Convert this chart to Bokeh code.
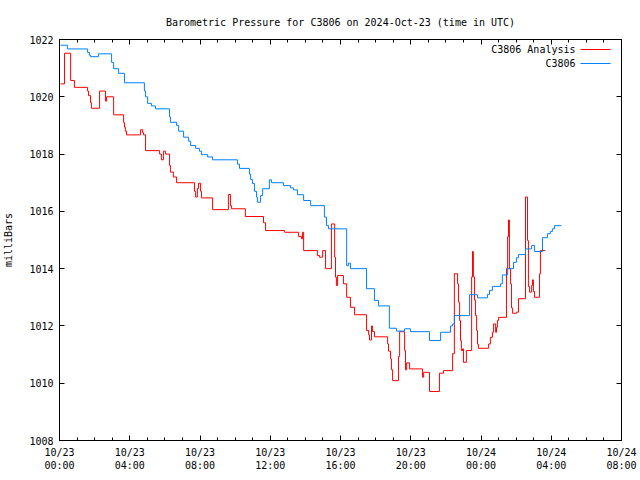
import numpy as np
from bokeh.plotting import figure
from bokeh.models import (LinearAxis, FixedTicker, Range1d, Label, Arrow)
from bokeh.embed import file_html
from bokeh.resources import INLINE

# ---- data (minutes since 2024-10-23 00:00 UTC, pressure in mb) ----
station_min = [3, 27, 96, 102, 106, 133, 178, 185, 202, 222, 290, 294, 301, 314, 328,
               376, 379, 400, 407, 424, 441, 448, 465, 478, 485, 506, 523, 608, 615,
               649, 653, 659, 666, 673, 676, 687, 694, 717, 724, 765, 789, 799, 813,
               834, 858, 905, 912, 919, 981, 987, 994, 1049, 1076, 1090, 1127, 1151,
               1179, 1199, 1264, 1302, 1336, 1343, 1349, 1401, 1428, 1462, 1469, 1479,
               1507, 1513, 1531, 1551, 1561, 1568, 1592, 1613, 1623, 1650, 1667, 1677,
               1684, 1691, 1715]
station_mb = [1021.80, 1021.67, 1021.55, 1021.45, 1021.40, 1021.50, 1021.20, 1020.98,
              1020.82, 1020.49, 1020.20, 1020.00, 1019.77, 1019.68, 1019.58, 1019.30,
              1019.11, 1019.00, 1018.80, 1018.59, 1018.45, 1018.30, 1018.20, 1018.10,
              1017.98, 1017.90, 1017.80, 1017.65, 1017.50, 1017.30, 1017.11, 1016.97,
              1016.70, 1016.50, 1016.32, 1016.55, 1016.79, 1017.10, 1017.00, 1016.90,
              1016.82, 1016.75, 1016.58, 1016.38, 1016.20, 1015.80, 1015.50, 1015.39,
              1014.10, 1014.19, 1014.00, 1013.30, 1012.89, 1012.70, 1011.92, 1011.82,
              1011.90, 1011.80, 1011.49, 1011.78, 1012.00, 1012.07, 1012.36, 1013.09,
              1012.98, 1013.10, 1013.24, 1013.38, 1013.47, 1013.78, 1014.00, 1014.22,
              1014.38, 1014.49, 1014.69, 1014.81, 1014.60, 1015.08, 1015.22, 1015.30,
              1015.39, 1015.50, 1015.50]

analysis_min = [3, 17, 38, 51, 96, 99, 106, 109, 137, 157, 161, 185, 219, 222, 225, 229,
                277, 284, 287, 294, 342, 348, 355, 362, 376, 379, 389, 400, 461, 465,
                471, 475, 482, 485, 523, 577, 584, 588, 635, 697, 704, 769, 817, 827,
                830, 834, 881, 888, 899, 909, 929, 940, 943, 946, 950, 970, 981, 994,
                1008, 1049, 1056, 1059, 1066, 1069, 1076, 1121, 1124, 1131, 1134, 1138,
                1158, 1162, 1179, 1182, 1186, 1196, 1240, 1244, 1264, 1298, 1312, 1343,
                1349, 1360, 1363, 1367, 1370, 1373, 1377, 1380, 1390, 1408, 1411, 1414,
                1418, 1421, 1425, 1428, 1431, 1466, 1472, 1479, 1483, 1490, 1493, 1496,
                1500, 1527, 1531, 1534, 1537, 1541, 1544, 1548, 1561, 1568, 1592, 1599,
                1602, 1606, 1613, 1616, 1619, 1623, 1640, 1643, 1660]
analysis_mb = [1020.45, 1021.52, 1020.57, 1020.33, 1020.20, 1020.04, 1019.80, 1019.60,
               1020.20, 1019.85, 1020.00, 1019.37, 1019.10, 1018.94, 1018.80, 1018.67,
               1018.85, 1018.75, 1018.67, 1018.12, 1018.00, 1017.80, 1018.10, 1018.00,
               1017.60, 1017.37, 1017.20, 1017.00, 1016.70, 1016.50, 1016.80, 1016.98,
               1016.70, 1016.47, 1016.06, 1016.59, 1016.20, 1016.09, 1015.82, 1015.60,
               1015.33, 1015.27, 1015.12, 1015.04, 1015.27, 1014.63, 1014.46, 1014.40,
               1014.63, 1014.00, 1015.56, 1014.40, 1013.70, 1013.41, 1013.76, 1013.47,
               1013.00, 1012.65, 1012.39, 1011.84, 1011.69, 1011.51, 1012.00, 1011.80,
               1011.62, 1011.37, 1011.12, 1010.85, 1010.47, 1010.09, 1010.93, 1011.80,
               1011.14, 1010.47, 1010.71, 1010.50, 1010.21, 1010.38, 1009.71, 1010.35,
               1010.44, 1011.03, 1013.82, 1013.47, 1012.83, 1012.19, 1011.49, 1011.14,
               1011.20, 1010.73, 1011.14, 1013.71, 1014.60, 1013.71, 1012.90, 1012.36,
               1011.84, 1011.37, 1011.22, 1011.37, 1011.60, 1011.78, 1012.07, 1011.78,
               1011.95, 1012.19, 1012.30, 1014.00, 1015.12, 1015.70, 1014.00, 1013.47,
               1012.63, 1012.44, 1012.48, 1012.95, 1016.50, 1014.98, 1013.38, 1013.18,
               1013.41, 1013.61, 1013.20, 1013.00, 1013.82, 1014.63, 1014.63]

x_tick_hours = [0, 4, 8, 12, 16, 20, 24, 28, 32]
x_tick_labels = ["10/23\n00:00", "10/23\n04:00", "10/23\n08:00", "10/23\n12:00",
                 "10/23\n16:00", "10/23\n20:00", "10/24\n00:00", "10/24\n04:00",
                 "10/24\n08:00"]
y_ticks = [1008, 1010, 1012, 1014, 1016, 1018, 1020, 1022]

series_names = ["C3806 Analysis", "C3806"]
series_colors = ["#ff0000", "#0080ff"]

FONT = "DejaVu Sans Mono"

p = figure(width=640, height=480, output_backend="svg", toolbar_location=None,
           x_range=Range1d(0, 32), y_range=Range1d(1008, 1022),
           min_border_left=59, min_border_right=19, min_border_top=39,
           min_border_bottom=40, x_axis_location=None, y_axis_location=None)
p.grid.visible = False
p.outline_line_color = "black"
p.background_fill_color = "white"
p.border_fill_color = "white"

p.title.text = "Barometric Pressure for C3806 on 2024-Oct-23 (time in UTC)"
p.title.align = "center"
p.title.text_font = FONT
p.title.text_font_size = "10px"
p.title.text_font_style = "normal"
p.title.text_color = "black"
p.title.standoff = 24

xt = FixedTicker(ticks=x_tick_hours, minor_ticks=list(range(0, 33)))
yt = FixedTicker(ticks=y_ticks, minor_ticks=[])


def style(ax, labels=True):
    ax.axis_line_color = "black"
    ax.major_tick_in = 5
    ax.major_tick_out = 0
    ax.minor_tick_in = 3
    ax.minor_tick_out = 0
    ax.major_tick_line_color = "black"
    ax.minor_tick_line_color = "black"
    ax.major_label_text_font = FONT
    ax.major_label_text_font_size = "10px"
    ax.major_label_text_color = "black" if labels else None
    ax.axis_label_text_font = FONT
    ax.axis_label_text_font_size = "10px"
    ax.axis_label_text_font_style = "normal"
    ax.axis_label_text_color = "black"
    if not labels:
        ax.major_label_standoff = 0


xb = LinearAxis(ticker=xt, major_label_overrides={h: l for h, l in zip(x_tick_hours, x_tick_labels)})
style(xb)
xb.major_label_standoff = 6
p.add_layout(xb, "below")
xa = LinearAxis(ticker=xt)
style(xa, labels=False)
p.add_layout(xa, "above")

yl = LinearAxis(ticker=yt, axis_label="milliBars")
style(yl)
yl.major_label_standoff = 6
yl.axis_label_standoff = 12
p.add_layout(yl, "left")
yr = LinearAxis(ticker=yt)
style(yr, labels=False)
p.add_layout(yr, "right")

ah = np.array(analysis_min) / 60.0
sh = np.array(station_min) / 60.0
p.step(ah, analysis_mb, mode="after", line_color=series_colors[0], line_width=1)
p.step(sh, station_mb, mode="after", line_color=series_colors[1], line_width=1)

# gnuplot-style key (text right-aligned, sample line to the right)
for i, (name, col) in enumerate(zip(series_names, series_colors)):
    ys = 391 - 14 * i
    p.add_layout(Label(x=516, y=ys, x_units="screen", y_units="screen", text=name,
                       text_align="right", text_baseline="middle", text_font=FONT,
                       text_font_size="10px", text_color="black"))
    p.add_layout(Arrow(x_start=521, y_start=ys, x_end=551, y_end=ys,
                       start_units="screen", end_units="screen", end=None,
                       line_color=col, line_width=1))

open("out.html", "w").write(file_html(p, INLINE))
